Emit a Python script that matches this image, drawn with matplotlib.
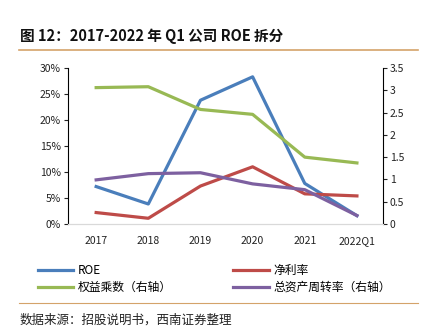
import matplotlib
matplotlib.use('Agg')
import matplotlib.pyplot as plt
from matplotlib.lines import Line2D

plt.rcParams['font.family'] = ['Noto Sans CJK SC', 'DejaVu Sans']

years = ['2017', '2018', '2019', '2020', '2021', '2022Q1']
roe = [7.2, 3.85, 23.8, 28.3, 7.8, 1.6]           # %
net_margin = [2.2, 1.1, 7.3, 11.0, 5.8, 5.4]      # %
equity_mult = [3.06, 3.08, 2.57, 2.46, 1.50, 1.37]  # right axis
asset_turn = [0.99, 1.13, 1.15, 0.90, 0.77, 0.19]   # right axis

c_blue = '#4A7EBB'
c_red = '#BE4B48'
c_green = '#98B954'
c_purple = '#7D60A0'

fig = plt.figure(figsize=(4.26, 3.35), dpi=100)
W, H = 426.0, 335.0
ax = fig.add_axes([68 / W, 1 - 224 / H, (383 - 68) / W, (224 - 68) / H])
ax2 = ax.twinx()

x = list(range(len(years)))
lw = 2.3
ax.plot(x, roe, color=c_blue, lw=lw, zorder=3)
ax.plot(x, net_margin, color=c_red, lw=lw, zorder=3)
ax2.plot(x, equity_mult, color=c_green, lw=lw)
ax2.plot(x, asset_turn, color=c_purple, lw=lw)

ax.set_xlim(-0.54, 5.5)
ax.set_ylim(0, 30)
ax.set_yticks(range(0, 31, 5))
ax.set_yticklabels(['%d%%' % v for v in range(0, 31, 5)])
ax2.set_ylim(0, 3.5)
ax2.set_yticks([0, 0.5, 1, 1.5, 2, 2.5, 3, 3.5])
ax2.set_yticklabels(['0', '0.5', '1', '1.5', '2', '2.5', '3', '3.5'])
ax.set_xticks(x)
ax.set_xticklabels(years)

for a in (ax, ax2):
    a.spines['top'].set_visible(False)
    a.spines['bottom'].set_color('#D9D9D9')
    a.spines['left'].set_color('black')
    a.spines['right'].set_color('black')
    a.spines['left'].set_linewidth(0.8)
    a.spines['right'].set_linewidth(0.8)
ax.spines['right'].set_visible(False)
ax2.spines['left'].set_visible(False)
ax.tick_params(axis='y', labelsize=7.5, length=3, width=0.8, pad=2, colors='#222222')
ax2.tick_params(axis='y', labelsize=7.5, length=3, width=0.8, pad=2, colors='#222222')
ax.tick_params(axis='x', labelsize=7.5, length=0, pad=9, colors='#222222')

# title and decoration
fig.text(20 / W, 1 - 36 / H, '图 12：2017-2022 年 Q1 公司 ROE 拆分', fontsize=10.5,
         fontweight='bold', va='center', ha='left', color='#111111')
fig.add_artist(Line2D([19 / W, 418 / W], [1 - 50 / H, 1 - 50 / H],
                      color='#D4A36A', lw=1.2))
fig.add_artist(Line2D([19 / W, 418 / W], [1 - 303 / H, 1 - 303 / H],
                      color='#D4A36A', lw=0.8))

handles = [Line2D([], [], color=c_blue, lw=lw),
           Line2D([], [], color=c_green, lw=lw),
           Line2D([], [], color=c_red, lw=lw),
           Line2D([], [], color=c_purple, lw=lw)]
labels = ['ROE', '权益乘数（右轴）', '净利率', '总资产周转率（右轴）']
fig.legend(handles, labels, ncol=2, loc='upper left',
           bbox_to_anchor=(33 / W, 1 - 259 / H), frameon=False,
           fontsize=8.5, handlelength=3.0, handletextpad=0.4,
           columnspacing=5.2, labelspacing=0.35, borderaxespad=0)

fig.text(20 / W, 1 - 320 / H, '数据来源：招股说明书，西南证券整理', fontsize=9,
         style='italic', va='center', ha='left', color='#222222')

fig.savefig('out.png', dpi=100)
